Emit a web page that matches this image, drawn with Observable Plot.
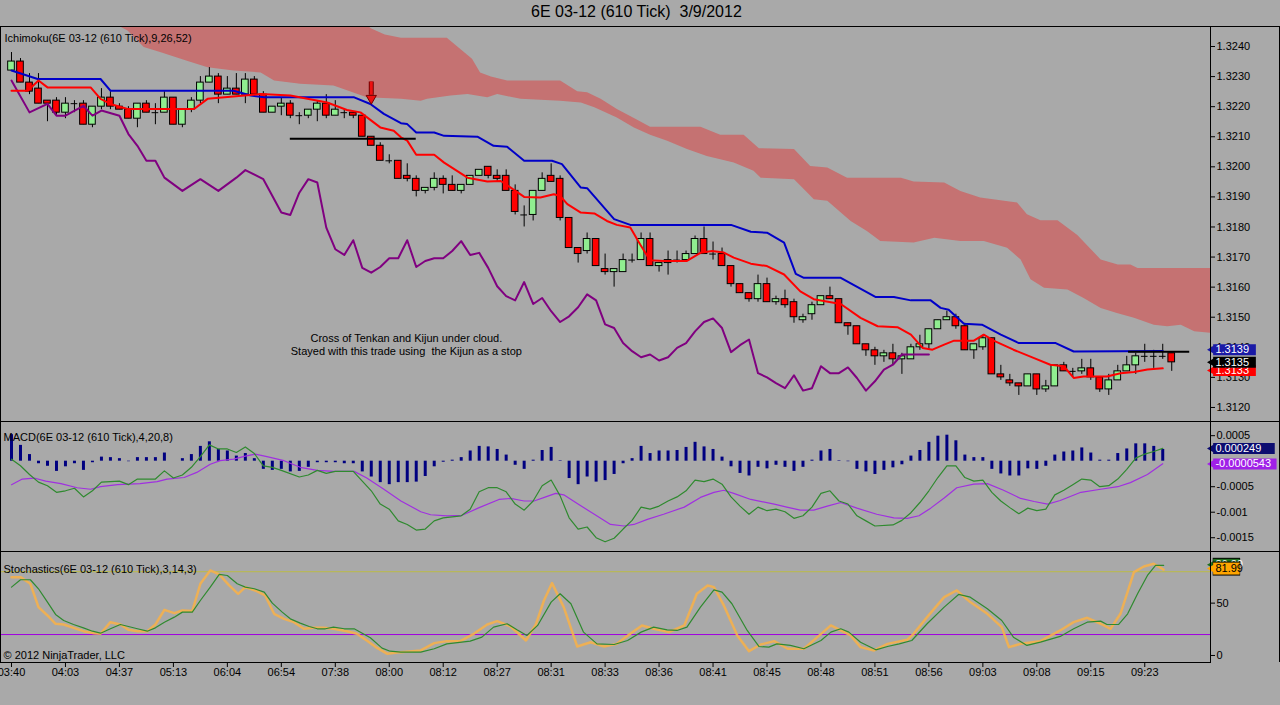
<!DOCTYPE html>
<html><head><meta charset="utf-8">
<script src="https://cdn.jsdelivr.net/npm/d3@7"></script>
<script src="https://cdn.jsdelivr.net/npm/@observablehq/plot@0.6"></script>
<style>
html,body{margin:0;padding:0;background:#a9a9a9;}
#root{position:relative;width:1280px;height:705px;background:#a9a9a9;overflow:hidden;font-family:"Liberation Sans",Arial,sans-serif;}
#title{position:absolute;left:531px;top:3px;font-size:16px;color:#000;white-space:pre;}
.ln{position:absolute;background:#000;}
svg text, svg tspan{white-space:pre;}
</style></head><body><div id="root"><div id="title">6E 03-12 (610 Tick)  3/9/2012</div></div>
<script>
// ---------- candles (bar index 0..129) ----------
const open = [1.3232,1.3235,1.3228,1.3226,1.3222,1.3222,1.3218,1.3221,1.3221,1.3214,
1.3220,1.3223,1.3220,1.3219,1.3216,1.3221,1.3218,1.3218,1.3223,1.3214,
1.3219,1.3222,1.3228,1.3230,1.3224,1.3226,1.3224,1.3229,1.3224,1.3218,
1.3220,1.3221,1.3217,1.3217,1.3219,1.3221,1.3217,1.3218,1.3218,1.3217,
1.3210,1.3207,1.3202,1.3202,1.3197,1.3196,1.3192,1.3193,1.3196,1.3194,
1.3192,1.3194,1.3197,1.3200,1.3197,1.3197,1.3192,1.3184,1.3184,1.3192,
1.3197,1.3196,1.3183,1.3173,1.3172,1.3176,1.3166,1.3165,1.3165,1.3169,
1.3169,1.3176,1.3167,1.3168,1.3169,1.3169,1.3171,1.3176,1.3171,1.3171,
1.3167,1.3161,1.3158,1.3156,1.3161,1.3155,1.3156,1.3155,1.3149,1.3151,
1.3154,1.3157,1.3156,1.3148,1.3147,1.3141,1.3139,1.3137,1.3138,1.3136,
1.3136,1.3140,1.3141,1.3146,1.3149,1.3150,1.3147,1.3139,1.3140,1.3143,
1.3131,1.3129,1.3128,1.3127,1.3131,1.3126,1.3127,1.3134,1.3132,1.3132,
1.3133,1.3130,1.3126,1.3129,1.3132,1.3134,1.3137,1.3137,1.3137,1.3138];
const high = [1.3238,1.3236,1.3231,1.3231,1.3222,1.3223,1.3223,1.3222,1.3222,1.3220,
1.3226,1.3225,1.3221,1.3220,1.3221,1.3222,1.3221,1.3225,1.3223,1.3219,
1.3223,1.3230,1.3233,1.3231,1.3230,1.3231,1.3231,1.3230,1.3225,1.3220,
1.3223,1.3222,1.3218,1.3219,1.3222,1.3224,1.3222,1.3219,1.3218,1.3217,
1.3210,1.3208,1.3204,1.3202,1.3201,1.3197,1.3193,1.3198,1.3197,1.3197,
1.3194,1.3197,1.3199,1.3200,1.3199,1.3199,1.3194,1.3187,1.3192,1.3198,
1.3201,1.3197,1.3183,1.3173,1.3178,1.3176,1.3171,1.3166,1.3171,1.3171,
1.3178,1.3178,1.3168,1.3172,1.3172,1.3172,1.3177,1.3180,1.3175,1.3173,
1.3167,1.3161,1.3158,1.3164,1.3163,1.3157,1.3159,1.3156,1.3151,1.3155,
1.3157,1.3160,1.3156,1.3148,1.3147,1.3141,1.3140,1.3139,1.3141,1.3138,
1.3141,1.3144,1.3146,1.3149,1.3152,1.3151,1.3148,1.3141,1.3144,1.3143,
1.3134,1.3131,1.3128,1.3131,1.3131,1.3129,1.3134,1.3135,1.3133,1.3136,
1.3136,1.3130,1.3131,1.3134,1.3137,1.3138,1.3141,1.3139,1.3141,1.3138];
const low = [1.3232,1.3228,1.3224,1.3221,1.3215,1.3217,1.3216,1.3218,1.3214,1.3213,
1.3219,1.3219,1.3219,1.3216,1.3213,1.3218,1.3214,1.3218,1.3214,1.3213,
1.3218,1.3221,1.3228,1.3221,1.3224,1.3224,1.3221,1.3224,1.3218,1.3218,
1.3217,1.3216,1.3214,1.3216,1.3215,1.3216,1.3217,1.3216,1.3216,1.3210,
1.3207,1.3202,1.3201,1.3196,1.3195,1.3190,1.3191,1.3192,1.3191,1.3192,
1.3191,1.3194,1.3197,1.3196,1.3195,1.3192,1.3184,1.3180,1.3182,1.3192,
1.3195,1.3182,1.3173,1.3168,1.3171,1.3167,1.3164,1.3160,1.3165,1.3168,
1.3169,1.3167,1.3165,1.3164,1.3168,1.3169,1.3171,1.3171,1.3169,1.3167,
1.3160,1.3158,1.3155,1.3155,1.3155,1.3154,1.3153,1.3148,1.3148,1.3149,
1.3154,1.3156,1.3148,1.3144,1.3141,1.3137,1.3134,1.3135,1.3134,1.3131,
1.3136,1.3139,1.3139,1.3146,1.3149,1.3146,1.3139,1.3136,1.3139,1.3131,
1.3129,1.3127,1.3124,1.3127,1.3124,1.3125,1.3127,1.3132,1.3130,1.3131,
1.3129,1.3125,1.3124,1.3129,1.3132,1.3131,1.3135,1.3133,1.3136,1.3132];
const close = [1.3235,1.3228,1.3225,1.3221,1.3221,1.3218,1.3221,1.3221,1.3214,1.3220,
1.3223,1.3220,1.3219,1.3216,1.3221,1.3218,1.3218,1.3223,1.3214,1.3219,
1.3222,1.3228,1.3230,1.3224,1.3226,1.3224,1.3229,1.3224,1.3218,1.3220,
1.3221,1.3217,1.3217,1.3219,1.3221,1.3217,1.3219,1.3218,1.3217,1.3210,
1.3207,1.3202,1.3202,1.3196,1.3196,1.3192,1.3193,1.3196,1.3194,1.3192,
1.3194,1.3197,1.3199,1.3197,1.3196,1.3192,1.3185,1.3184,1.3192,1.3196,
1.3195,1.3183,1.3173,1.3171,1.3176,1.3167,1.3165,1.3166,1.3169,1.3169,
1.3176,1.3167,1.3168,1.3169,1.3169,1.3171,1.3176,1.3171,1.3171,1.3167,
1.3161,1.3158,1.3156,1.3161,1.3155,1.3156,1.3154,1.3150,1.3150,1.3154,
1.3157,1.3156,1.3148,1.3147,1.3141,1.3139,1.3137,1.3138,1.3136,1.3137,
1.3140,1.3141,1.3146,1.3149,1.3150,1.3147,1.3139,1.3141,1.3143,1.3131,
1.3130,1.3128,1.3127,1.3131,1.3126,1.3127,1.3134,1.3132,1.3132,1.3133,
1.3130,1.3126,1.3129,1.3132,1.3134,1.3137,1.3137,1.3137,1.3137,1.3135];

// ---------- Ichimoku lines ----------
const tenkanIdx = [0,1.8,3,4,8.8,9.9,11,12.9,20.3,21.8,27.7,31,35.1,37.3,38.8,41,42.5,43.3,44,45,47,48.1,50.7,52.9,54.4,55.5,57,58.8,60.3,61,61.8,63.3,64.8,66.2,67.3,68.8,69.9,71,72.5,75.1,76.6,77.9,79.2,80.3,82.2,84,85.9,87.7,89.2,92.2,94.4,96.3,98.5,100,101.3,102.4,103.7,104.8,107,108.1,109.2,111.4,113.7,115.5,117,118.1,119.2,121.8,123.3,124.8,126.3,128];
const tenkanVal = [1.32253,1.32253,1.32287,1.32264,1.32264,1.32226,1.32209,1.32192,1.32192,1.32226,1.32242,1.32237,1.32214,1.32189,1.32181,1.32131,1.3212,1.32098,1.32087,1.3204,1.3204,1.32014,1.31964,1.31951,1.31953,1.31931,1.319,1.31898,1.31909,1.31903,1.31876,1.31848,1.31845,1.3182,1.31807,1.31798,1.31742,1.31689,1.31687,1.31687,1.31714,1.3172,1.31715,1.31698,1.31678,1.3167,1.31642,1.31586,1.3156,1.31544,1.31498,1.3147,1.31467,1.31442,1.31398,1.31392,1.31409,1.31422,1.31422,1.31442,1.31422,1.31392,1.31364,1.31342,1.31337,1.31298,1.31303,1.31303,1.31314,1.31318,1.31326,1.3133];
const kijunIdx = [0,1.8,2.9,9.9,11,24.7,26.6,28.1,38.1,39.9,41.4,43.3,44,45,47,48.1,51.8,53.6,55.1,57,60.1,61.2,63.3,64,67,68.8,80,82.2,84,85.9,87.2,88.1,92.2,96.1,98.1,100,102.2,103.3,104.2,105.9,107.9,110,112,116.1,118.1,128];
const kijunVal = [1.3232,1.32303,1.32292,1.32292,1.32253,1.32253,1.32237,1.32231,1.32231,1.32209,1.32176,1.32145,1.32142,1.32114,1.32114,1.32103,1.321,1.3207,1.32067,1.3202,1.3202,1.32009,1.31931,1.31929,1.31826,1.31807,1.31807,1.31784,1.31781,1.31748,1.31644,1.31631,1.31631,1.31567,1.31567,1.31556,1.31556,1.31531,1.31525,1.31478,1.31475,1.31442,1.31414,1.31414,1.31386,1.31388];
const chikouIdx = [0,2,4,5,6,8,9,10,12,13,14,15,16,17,19,21,23,25,26,28,30,31,32,33,34,35,36,37,38,39,40,41,42,43,44,45,46,47,48,49,50,51,52,53,54,55,56,57,58,59,60,61,62,63,64,65,66,67,68,69,70,71,72,73,74,75,76,77,78,79,80,81,82,83,84,85,86,87,88,89,90,91,92,93,94,95,96,97,98,99,102];
const chikouVal = [1.32287,1.32181,1.32209,1.3217,1.3217,1.32203,1.3217,1.32187,1.3217,1.32109,1.3207,1.3202,1.3202,1.31964,1.3192,1.31959,1.3192,1.31964,1.31989,1.31959,1.31848,1.3184,1.31914,1.31959,1.31948,1.31798,1.31726,1.31707,1.31756,1.31664,1.31648,1.31667,1.31696,1.31696,1.31756,1.31667,1.31687,1.31696,1.31696,1.3172,1.31753,1.31707,1.31714,1.31664,1.31603,1.3157,1.31556,1.31617,1.31544,1.31564,1.3152,1.31484,1.31503,1.31533,1.31576,1.31556,1.31476,1.31464,1.31414,1.31387,1.31367,1.31376,1.31356,1.31367,1.31398,1.31414,1.31453,1.31484,1.31496,1.31464,1.31384,1.31407,1.31426,1.31314,1.313,1.31281,1.31264,1.31307,1.31256,1.31264,1.31337,1.31314,1.31314,1.31333,1.31298,1.31256,1.31287,1.31326,1.31342,1.31376,1.31376];
// cloud (senkou spans), upper and lower edges
const cloudTopIdx = [-1.3,38,40,41.5,43.3,48.4,49.9,51.2,52.1,53.3,55.1,61,62.9,64,65.5,67.3,69.2,71,76.6,78.8,81.4,83.1,87,88.8,90.7,92.9,98.9,100.3,103.7,105.5,107.7,111.8,112.9,114.4,116.3,118.5,121.1,123,124.4,125.2,133.4];
const cloudTopVal = [1.3250,1.3250,1.3246,1.3244,1.32429,1.32429,1.32392,1.32359,1.32314,1.323,1.32287,1.32287,1.32251,1.32248,1.32226,1.32192,1.32162,1.32133,1.32133,1.32107,1.32107,1.32062,1.32059,1.32003,1.31998,1.31964,1.31964,1.31951,1.31948,1.3192,1.31898,1.31881,1.31842,1.31822,1.31822,1.31773,1.31692,1.31675,1.31675,1.31664,1.31664];
const cloudBotIdx = [-1.3,10,12.9,14.7,16.6,19.5,21.8,24.7,27.7,29.2,32.1,35.8,39.5,43.3,45.5,46.2,48.8,50.7,52.9,54,56.6,61,63.3,64.8,67.3,69.2,71,72.9,75.1,77.3,80.3,82.5,83.3,87,88.5,89.2,90.7,93.3,95.1,96.6,100.3,102.6,105.5,108.1,110.7,112.2,113.3,114.8,117.4,119.2,121.1,122.9,124.8,127,128.5,130,131.5,133.4];
const cloudBotVal = [1.3250,1.3250,1.32453,1.32398,1.32381,1.32353,1.32331,1.3232,1.32314,1.32287,1.32276,1.3227,1.32231,1.32226,1.3222,1.32226,1.32237,1.32242,1.32231,1.32242,1.32226,1.3222,1.32214,1.32198,1.32164,1.32131,1.32107,1.32087,1.32059,1.32036,1.32014,1.31987,1.31964,1.31959,1.31914,1.31892,1.31887,1.3182,1.31787,1.31753,1.31748,1.31764,1.31753,1.31753,1.31731,1.31692,1.31626,1.31598,1.31592,1.31564,1.31531,1.31514,1.31498,1.31475,1.3147,1.31475,1.31453,1.31448];
const priceTicks = [1.312,1.313,1.314,1.315,1.316,1.317,1.318,1.319,1.320,1.321,1.322,1.323,1.324];

// ---------- MACD ----------
const macdHist = [0.00052,0.00031,0.00013,-0.00005,-0.0001,-0.0002,-0.00011,-0.00005,-0.00018,-0.00003,
0.00008,0.00007,0.00005,-0.00001,0.00007,0.00007,0.00007,0.00016,0,0.00005,
0.00013,0.00029,0.00038,0.00023,0.0002,0.0001,0.00015,0.00005,-0.00016,-0.00018,
-0.00016,-0.00021,-0.0002,-0.00012,-0.00003,-0.00003,-0.00003,-0.00005,-0.00005,-0.00021,
-0.00031,-0.00042,-0.00046,-0.00042,-0.00042,-0.00041,-0.0003,-0.00011,-0.00002,0.00002,
0.00007,0.0002,0.00029,0.00028,0.00023,0.00012,-0.00008,-0.00016,0.00002,0.00021,
0.00027,0.00001,-0.00034,-0.00046,-0.00031,-0.00041,-0.00038,-0.00026,-0.00005,0.00005,
0.00029,0.00015,0.0002,0.0002,0.00021,0.00027,0.00037,0.00028,0.00023,0.00008,
-0.00011,-0.00024,-0.00029,-0.00012,-0.00015,-0.00008,-0.00012,-0.0002,-0.00012,0.00002,
0.0002,0.00023,0.00001,-0.00001,-0.00016,-0.00021,-0.00026,-0.00018,-0.00013,-0.00007,
0.0001,0.00021,0.00037,0.00049,0.00051,0.0004,0.00012,0.00007,0.00007,-0.00016,
-0.00025,-0.00029,-0.00029,-0.00015,-0.00016,-0.0001,0.00012,0.00018,0.0002,0.00026,
0.00016,0.00002,0.00002,0.00015,0.00024,0.00034,0.00034,0.00029,0.00023];
const macdIdx = [0,1,2,3,4,5,6,7,8,9,10,12,13,14,16,17,18,19,20,21,22,23,24,25,26,27,28,29,30,32,33,34,35,36,38,39,40,41,42,43,44,45,46,47,48,50,51,52,53,54,55,56,57,58,59,60,61,62,63,64,65,66,67,68,69,70,71,72,73,74,75,76,77,78,79,80,81,82,83,84,85,86,87,88,89,90,91,92,93,94,95,96,98,99,100,101,102,103,104,105,106,107,108,109,110,111,112,113,114,115,116,117,118,119,120,121,122,123,124,125,126,127,128];
const macdVal = [0.00004,-0.00009,-0.00026,-0.00041,-0.00048,-0.00061,-0.00058,-0.00053,-0.0007,-0.00058,-0.00041,
-0.00039,-0.00046,-0.00035,-0.00035,-0.00019,-0.00033,-0.00027,-0.00012,0.00009,0.00032,
0.00024,0.00024,0.00017,0.00028,0.00015,-0.00009,-0.00012,-0.00018,-0.00031,-0.00027,
-0.00018,-0.00024,-0.0002,-0.0002,-0.00039,-0.00058,-0.00084,-0.00094,-0.00117,-0.00124,
-0.00135,-0.00133,-0.00117,-0.00111,-0.00107,-0.00094,-0.0006,-0.00052,-0.00052,-0.0006,
-0.00084,-0.00096,-0.00078,-0.00048,-0.00037,-0.00068,-0.00111,-0.00133,-0.00129,-0.0015,
-0.00158,-0.00151,-0.00133,-0.00116,-0.0009,-0.00094,-0.00088,-0.00078,-0.0007,-0.00058,
-0.00037,-0.0004,-0.00035,-0.00045,-0.0007,-0.00088,-0.00104,-0.0009,-0.00097,-0.00094,
-0.00099,-0.00112,-0.00107,-0.0009,-0.00063,-0.00058,-0.00078,-0.00084,-0.00107,-0.00117,
-0.00127,-0.00125,-0.00116,-0.00101,-0.00081,-0.00058,-0.00032,-0.00009,-0.00009,-0.00032,
-0.00039,-0.00037,-0.00061,-0.00078,-0.00091,-0.00103,-0.00092,-0.00097,-0.00094,-0.00066,
-0.00057,-0.00046,-0.00035,-0.00037,-0.0005,-0.00048,-0.00035,-0.00016,0.00006,0.00014,
0.00019,0.00025];
const avgIdx = [0,1.2,2.5,3.8,5.5,7.3,8.8,9.9,11.8,14.3,16.2,17.3,19.2,20.6,22.1,23.2,24.7,26,27.1,28.4,30.3,32.1,34,35.8,38.1,39.5,41.4,43.3,45.5,46.6,48.4,50.1,52,54.2,55.5,57,58.1,59.4,60.5,61.4,62.9,64.8,66.6,68.1,69.2,70.7,72.5,74.8,76.6,78.1,79.2,80.3,82.2,84.8,86.2,87.7,89.2,90.7,92.2,94,96.2,98.1,99.6,100.9,102.2,103.7,105.1,107,108.5,110.3,112.2,113.7,115.2,116.6,118.9,121.1,123,124.4,126.3,128];
const avgVal = [-0.00046,-0.00035,-0.00033,-0.00039,-0.00044,-0.00052,-0.00055,-0.0005,-0.00046,-0.00044,
-0.0004,-0.00035,-0.00032,-0.00022,-0.00006,0.00001,0.00004,0.0001,0.00014,0.00009,
0.00001,-0.00012,-0.00018,-0.0002,-0.0002,-0.00033,-0.00055,-0.00078,-0.00099,-0.00105,
-0.00107,-0.00106,-0.00091,-0.00075,-0.00073,-0.00078,-0.00078,-0.0007,-0.00063,-0.00066,
-0.00083,-0.00104,-0.00124,-0.00127,-0.00124,-0.00114,-0.00104,-0.0009,-0.00071,-0.00061,
-0.00057,-0.00063,-0.00075,-0.00084,-0.0009,-0.00096,-0.00096,-0.00088,-0.00081,-0.00092,
-0.00104,-0.00111,-0.00112,-0.00107,-0.00092,-0.00072,-0.00052,-0.00045,-0.00044,-0.00057,
-0.00073,-0.00079,-0.00084,-0.00077,-0.00061,-0.00055,-0.0005,-0.00042,-0.00026,-0.00005];
const macdTicks = [0.0005,-0.0005,-0.001,-0.0015];

// ---------- Stochastics ----------
const stochDIdx = [0,1,2.1,3,4,4.9,5.8,6.9,8,9,9.9,11,12.1,13,14,15.1,16,17,18.1,19,20.1,21,22.1,23.1,24,25.1,26,27,28.1,29,30.1,31,32.1,33.1,34,34.9,35.8,37,38.1,39,39.9,41.2,42.1,43.3,45.5,47,48.4,51,52.3,53.6,55.1,56.2,57.3,58.5,60,61,62.2,63.6,65.1,67,68.5,70,71.4,72.9,74,75.1,76.6,78.1,79,80.1,81.8,83.1,84.2,85.1,86.6,88.1,90,91.1,92.2,93.1,94.4,96.1,97.4,98.7,100.1,101.8,103.7,105.3,106.6,108.5,110.1,111.4,112.9,114.4,116.6,118.1,119.6,121.1,121.8,123.1,124.1,125.2,126.3,127.2,128.1];
const stochDVal = [65.3,72.3,72.3,63.7,51,39.2,33.4,29.6,26.4,23.2,21.3,25.5,29.6,27.7,25.5,23.2,26.4,31.8,36.6,41.4,41.4,52.5,65.3,77.4,76.4,68.5,65.3,63.7,60.5,50,41.4,35,30.9,27.7,25.5,25.5,27.1,25.5,25.5,21.3,16.9,7,4.1,3.2,3.2,6.4,11.1,13.7,17.5,27.1,30.3,24.5,19.1,28.7,51,58.9,49.4,22.3,11.1,10.5,14.3,22.3,27.1,24.5,23.9,27.1,46.2,62.7,60.5,49.4,23.9,8.6,8,11.1,9.6,6.4,14.3,22.3,25.5,22.3,12.7,5.4,8.6,11.1,14.3,30.3,46.2,58.3,55.7,44.6,33.4,17.5,9.6,12.7,18.2,25.5,31.8,32.8,29.6,29.6,39.8,58.9,76.4,86,86];
const stochKIdx = [0,1,2.1,3,4,4.9,5.8,6.9,8,9.2,9.9,11,12.1,13,14,15.1,16,17,18.1,19,20.1,21,22.1,23.1,24.2,25.2,26,27.1,28.2,29.2,30.3,31.4,32.5,33.6,34.7,35.8,37.3,38.4,39.5,40.5,41.8,43.3,45.5,47,48.4,49.9,51.4,52.9,54,55.5,57.2,58.3,59.2,60.1,61.4,62.9,64.4,65.9,67.3,68.8,70.1,71.4,73.1,74.8,76.2,77.4,78.1,79.2,80.7,82,83.3,84.8,86.3,88.1,89.6,91.1,92.2,93.3,94.4,95.9,97.4,99.6,100.3,101.8,103.7,105.1,106.6,108.5,110.1,110.9,112.2,114.4,116.6,118.1,119.6,121.1,122.2,123.3,124.8,125.9,127,128.1];
const stochKVal = [74.8,74.8,68.5,46.2,38.2,30.3,29.6,26.4,23.2,21.3,20.7,31.8,29.6,24.5,23.2,23.2,29.6,43.6,40.4,43,42.4,68.5,81.2,77.4,66.9,58.9,65.3,62.1,57.3,39.8,35,31.8,25.5,26.4,26.4,25.5,23.2,20.7,14.3,8,1.6,3.2,4.8,11.8,13.7,13.7,20.7,29.6,32.8,27.7,14.3,29.6,52.5,69.1,46.2,8.6,12.7,8.6,11.1,20.7,28.7,25.5,22.3,28.7,58.9,66.9,65.3,47.8,19.1,4.1,10.5,13.7,6.4,6.4,17.5,28.7,23.9,19.1,8,4.8,11.1,15,20.7,36.6,55.7,62.1,51,39.8,27.1,8,11.1,13.7,23.9,31.8,36,30.3,25.5,39.8,79.6,85,87.6,82];
const stochLevels = [80, 20];
const stochTicks = [0, 50];

// ---------- x axis labels (every 6 bars) ----------
const timeLabels = ["03:40","04:03","04:37","05:13","06:04","06:54","07:38","08:00","08:12","08:27","08:31","08:33","08:36","08:41","08:45","08:48","08:51","08:56","09:03","09:08","09:15","09:23"];

// ---------- annotations ----------
const drawnLevels = [{i1: 31, i2: 45, p: 1.32093}, {i1: 124.2, i2: 131, p: 1.31385}];
const arrowMark = {i: 40, from: 1.32282, to: 1.32214};
const noteLines = ["Cross of Tenkan and Kijun under cloud.", "Stayed with this trade using  the Kijun as a stop"];
const noteAt = {i: 43.9, p: 1.31409};
const priceTags = [{v: 1.31323, label: "1.3133", bg: "#ff0000", fg: "#ffffff", w: 4.8},
                   {v: 1.31392, label: "1.3139", bg: "#1a1aa6", fg: "#ffffff", w: 4.8},
                   {v: 1.3135,  label: "1.3135", bg: "#000000", fg: "#ffffff", w: 4.8}];
const macdTags = [{v: 0.000249, label: "0.000249", bg: "#0c0c70", fg: "#ffffff", w: 6.9},
                  {v: -0.0000543, label: "-0.0000543", bg: "#a020e8", fg: "#ffffff", w: 7.1}];
const stochTags = [{v: 86.6, label: "86.20", bg: "#1e6e1e", fg: "#ffffff", w: 3.0, border: true},
                   {v: 83.0, label: "81.99", bg: "#ffa500", fg: "#000000", w: 3.0, border: true}];

// ---------- build ----------
const pts = (xs, ys) => xs.map((x, k) => ({x, y: ys[k]}));
const candles = open.map((o, i) => ({i, o, h: high[i], l: low[i], c: close[i]}));
const ups = candles.filter(d => d.c > d.o);
const downs = candles.filter(d => d.c < d.o);
const dojis = candles.filter(d => d.c === d.o);
const cloudPoly = [...pts(cloudTopIdx, cloudTopVal), ...pts(cloudBotIdx, cloudBotVal).reverse()];
const hist = macdHist.map((v, i) => ({i, v}));
const tickIdx = timeLabels.map((_, k) => k * 6);

const XD = [-1.223, 133.31];
const xEnd = XD[1];
const HW = 0.37;
const FONT = '"Liberation Sans", Arial, sans-serif';
const common = {width: 1280, marginLeft: 0, marginRight: 70,
  style: {background: "transparent", fontFamily: FONT, fontSize: "11px", color: "#000", overflow: "visible"}};

function tagMarks(tags, h) {
  return tags.flatMap(t => [
    ...(t.border ? [Plot.ruleY([t.v], {x1: xEnd + 0.3, x2: xEnd + 0.35 + t.w, stroke: "#000", strokeWidth: h + 2})] : []),
    Plot.ruleY([t.v], {x1: xEnd + 0.35, x2: xEnd + 0.3 + t.w, stroke: t.bg, strokeWidth: h}),
    Plot.dot([t.v], {x: xEnd + 0.3, y: d => d, symbol: "triangle", rotate: -90, r: 4, fill: t.bg}),
    Plot.text([t.label], {x: xEnd + 0.55, y: () => t.v, text: d => d, fill: t.fg, textAnchor: "start", fontSize: 11})
  ]);
}

const pricePlot = Plot.plot({
  ...common, height: 394, marginTop: 0, marginBottom: 0,
  x: {domain: XD, axis: null},
  y: {domain: [1.311533, 1.324632], axis: "right", ticks: priceTicks, tickFormat: d3.format(".4f"), tickSize: 4, tickPadding: 2, label: null},
  marks: [
    Plot.line(cloudPoly, {x: "x", y: "y", fill: "#c57272", stroke: "none", clip: true}),
    Plot.ruleX(candles, {x: "i", y1: "l", y2: "h", stroke: "#000", strokeWidth: 1}),
    Plot.rect(ups, {x1: d => d.i - HW, x2: d => d.i + HW, y1: "o", y2: "c", fill: "#90ee90", stroke: "#000", strokeWidth: 1}),
    Plot.rect(downs, {x1: d => d.i - HW, x2: d => d.i + HW, y1: "o", y2: "c", fill: "#ff0000", stroke: "#000", strokeWidth: 1}),
    Plot.ruleY(dojis, {x1: d => d.i - HW, x2: d => d.i + HW, y: "c", stroke: "#000", strokeWidth: 1}),
    Plot.line(pts(chikouIdx, chikouVal), {x: "x", y: "y", stroke: "#800080", strokeWidth: 2, clip: true}),
    Plot.line(pts(kijunIdx, kijunVal), {x: "x", y: "y", stroke: "#0000c8", strokeWidth: 2, clip: true}),
    Plot.line(pts(tenkanIdx, tenkanVal), {x: "x", y: "y", stroke: "#ff0000", strokeWidth: 2, clip: true}),
    Plot.ruleY(drawnLevels, {x1: "i1", x2: "i2", y: "p", stroke: "#000", strokeWidth: 2}),
    Plot.ruleX([arrowMark], {x: "i", y1: "from", y2: d => d.to + (d.from - d.to) * 0.35, stroke: "#700000", strokeWidth: 5}),
    Plot.ruleX([arrowMark], {x: "i", y1: "from", y2: d => d.to + (d.from - d.to) * 0.35, stroke: "#ee1010", strokeWidth: 3}),
    Plot.dot([arrowMark], {x: "i", y: d => d.to + (d.from - d.to) * 0.2, symbol: "triangle", rotate: 180, r: 3.8, fill: "#ee1010", stroke: "#700000", strokeWidth: 1}),
    Plot.text([noteLines.join("\n")], {x: () => noteAt.i, y: () => noteAt.p, text: d => d, textAnchor: "middle", lineHeight: 1.1, fontSize: 11, fill: "#000"}),
    Plot.text(["Ichimoku(6E 03-12 (610 Tick),9,26,52)"], {frameAnchor: "top-left", dx: 4, dy: 7, text: d => d, fontSize: 11, fill: "#000"}),
    ...tagMarks(priceTags, 11)
  ]
});

const macdPlot = Plot.plot({
  ...common, height: 130, marginTop: 0, marginBottom: 0,
  x: {domain: XD, axis: null},
  y: {domain: [-0.00177, 0.000778], axis: "right", ticks: macdTicks, tickFormat: d => String(d), tickSize: 4, tickPadding: 2, label: null},
  marks: [
    Plot.ruleX(hist, {x: "i", y1: 0, y2: "v", stroke: "#000080", strokeWidth: 3}),
    Plot.line(pts(avgIdx, avgVal), {x: "x", y: "y", stroke: "#a030e0", strokeWidth: 1.2}),
    Plot.line(pts(macdIdx, macdVal), {x: "x", y: "y", stroke: "#2f8a2f", strokeWidth: 1.2}),
    Plot.text(["MACD(6E 03-12 (610 Tick),4,20,8)"], {frameAnchor: "top-left", dx: 3, dy: 12, text: d => d, fontSize: 11, fill: "#000"}),
    ...tagMarks(macdTags, 11)
  ]
});

const stochPlot = Plot.plot({
  ...common, height: 154, marginTop: 0, marginBottom: 43,
  x: {domain: XD, ticks: tickIdx, tickFormat: d => timeLabels[tickIdx.indexOf(d)], tickSize: 5, tickPadding: 1, label: null},
  y: {domain: [-6.7, 99.3], axis: "right", ticks: stochTicks, tickFormat: d => String(d), tickSize: 4, tickPadding: 2, label: null},
  marks: [
    Plot.ruleY([stochLevels[0]], {stroke: "#bcbc48", strokeWidth: 1}),
    Plot.ruleY([stochLevels[1]], {stroke: "#a000e0", strokeWidth: 1}),
    Plot.line(pts(stochKIdx, stochKVal), {x: "x", y: "y", stroke: "#f4b04c", strokeWidth: 2.5, strokeOpacity: 0.9}),
    Plot.line(pts(stochDIdx, stochDVal), {x: "x", y: "y", stroke: "#2f8a2f", strokeWidth: 1.2}),
    Plot.text(["Stochastics(6E 03-12 (610 Tick),3,14,3)"], {frameAnchor: "top-left", dx: 3, dy: 14, text: d => d, fontSize: 11, fill: "#000"}),
    Plot.text(["\u00a9 2012 NinjaTrader, LLC"], {frameAnchor: "bottom-left", dx: 3, dy: -4, text: d => d, fontSize: 11, fill: "#000"}),
    ...tagMarks(stochTags, 12)
  ]
});

const root = document.getElementById("root");
function place(el, top) {
  el.style.position = "absolute"; el.style.left = "0px"; el.style.top = top + "px";
  root.appendChild(el);
}
place(pricePlot, 27);
place(macdPlot, 421);
place(stochPlot, 551);

// panel frame lines
function line(x, y, w, h) {
  const d = document.createElement("div");
  d.className = "ln";
  d.style.left = x + "px"; d.style.top = y + "px"; d.style.width = w + "px"; d.style.height = h + "px";
  root.appendChild(d);
}
line(0, 26, 1280, 1);
line(0, 421, 1280, 1);
line(0, 551, 1280, 1);
line(0, 662, 1211, 1);
line(0, 26, 1, 636);
line(1210, 26, 1, 637);
line(1279, 26, 1, 636);
</script></body></html>
